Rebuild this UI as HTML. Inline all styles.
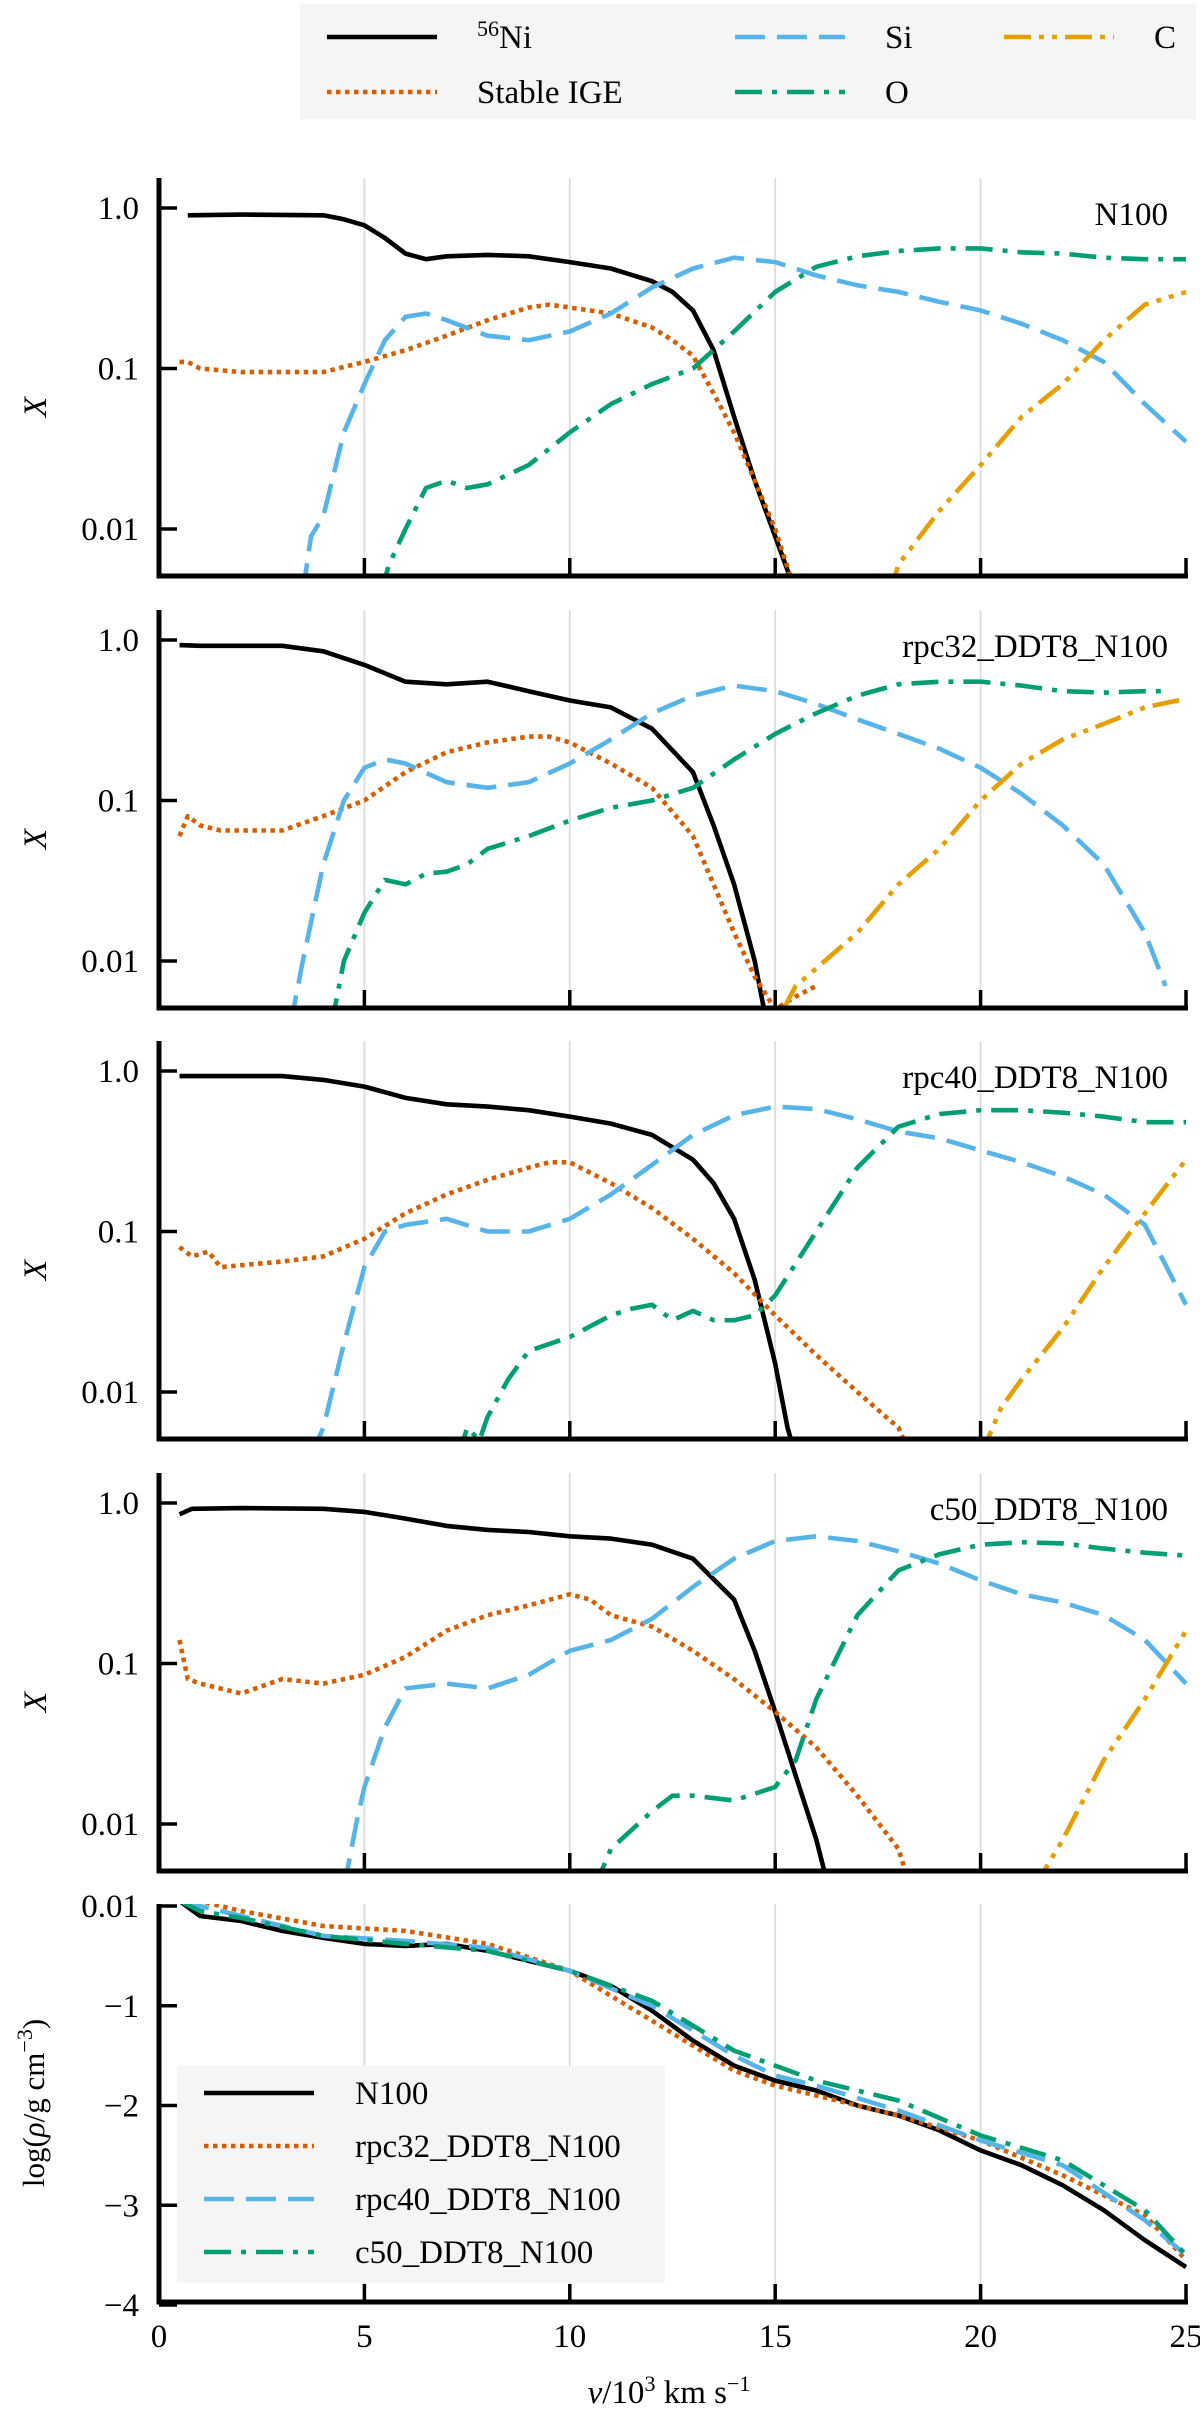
<!DOCTYPE html>
<html><head><meta charset="utf-8"><style>
html,body{margin:0;padding:0;background:#fff;}
svg{display:block;font-family:"Liberation Serif",serif;}
</style></head><body>
<svg id="chart" width="1200" height="2410" viewBox="0 0 1200 2410" xmlns="http://www.w3.org/2000/svg"></svg>
<script>
// ---- data ----
const xTicks = [0,5,10,15,20,25];
const yTicksLog = [1.0,0.1,0.01];
const yTickLogLabels = ["1.0","0.1","0.01"];
const rhoTicks = [0,-1,-2,-3,-4];
const rhoTickLabels = ["0.01","\u22121","\u22122","\u22123","\u22124"];
const panelNames = ["N100","rpc32_DDT8_N100","rpc40_DDT8_N100","c50_DDT8_N100"];

// N100
const p1_ni_v=[0.7,2,4,4.5,5,5.5,6,6.5,7,8,9,10,11,12,12.5,13,13.5,14,14.5,15,15.5];
const p1_ni_x=[0.9,0.91,0.9,0.85,0.78,0.65,0.52,0.48,0.5,0.51,0.5,0.46,0.42,0.35,0.3,0.23,0.13,0.05,0.02,0.009,0.004];
const p1_ige_v=[0.5,0.7,1,2,3,4,5,6,7,8,9,9.5,10,11,12,12.5,13,13.5,14,14.5,15,15.5];
const p1_ige_x=[0.11,0.11,0.1,0.095,0.095,0.095,0.11,0.13,0.16,0.2,0.24,0.25,0.24,0.22,0.18,0.15,0.12,0.07,0.04,0.02,0.01,0.004];
const p1_si_v=[3.5,3.7,4,4.5,5,5.5,6,6.5,7,8,9,10,11,12,13,14,15,16,17,18,19,20,21,22,23,24,25];
const p1_si_x=[0.004,0.009,0.012,0.04,0.08,0.15,0.21,0.22,0.2,0.16,0.15,0.17,0.22,0.32,0.42,0.49,0.46,0.38,0.33,0.3,0.26,0.23,0.19,0.15,0.11,0.06,0.035];
const p1_o_v=[5.4,5.6,6,6.5,7,7.5,8,9,10,11,12,13,14,15,16,17,18,19,20,21,22,23,24,25];
const p1_o_x=[0.004,0.006,0.01,0.018,0.02,0.018,0.019,0.025,0.04,0.06,0.08,0.1,0.17,0.3,0.43,0.5,0.54,0.56,0.56,0.53,0.52,0.49,0.48,0.48];
const p1_c_v=[17.8,18,19,20,21,22,23,24,25];
const p1_c_x=[0.004,0.006,0.013,0.025,0.05,0.08,0.15,0.25,0.3];
// rpc32
const p2_ni_v=[0.5,1,3,4,5,6,7,8,9,10,11,12,13,13.5,14,14.5,14.8];
const p2_ni_x=[0.93,0.92,0.92,0.85,0.7,0.55,0.53,0.55,0.48,0.42,0.38,0.28,0.15,0.07,0.03,0.01,0.004];
const p2_ige_v=[0.5,0.7,1,1.5,3,4,5,6,7,8,9,9.5,10,11,12,13,13.5,14,14.5,15,15.5,16];
const p2_ige_x=[0.06,0.08,0.07,0.065,0.065,0.08,0.1,0.15,0.2,0.23,0.25,0.25,0.23,0.17,0.12,0.06,0.03,0.015,0.008,0.005,0.006,0.007];
const p2_si_v=[3.2,3.5,4,4.5,5,5.5,6,7,8,9,10,11,12,13,14,15,16,17,18,19,20,21,22,23,24,24.5];
const p2_si_x=[0.004,0.01,0.04,0.1,0.16,0.18,0.17,0.13,0.12,0.13,0.17,0.24,0.35,0.45,0.52,0.48,0.4,0.32,0.26,0.21,0.16,0.11,0.07,0.04,0.015,0.007];
const p2_o_v=[4.2,4.5,5,5.5,6,6.5,7,7.5,8,9,10,11,12,13,14,15,16,17,18,19,20,21,22,23,24,24.5];
const p2_o_x=[0.004,0.01,0.02,0.032,0.03,0.035,0.036,0.04,0.05,0.06,0.075,0.09,0.1,0.12,0.18,0.26,0.35,0.45,0.53,0.55,0.55,0.52,0.48,0.47,0.48,0.48];
const p2_c_v=[15.2,15.5,16,17,18,19,20,21,22,23,24,25];
const p2_c_x=[0.005,0.007,0.009,0.015,0.03,0.05,0.1,0.17,0.24,0.3,0.38,0.43];
// rpc40
const p3_ni_v=[0.5,3,4,5,6,7,8,9,10,11,12,13,13.5,14,14.5,15,15.3,15.5];
const p3_ni_x=[0.93,0.93,0.88,0.8,0.68,0.62,0.6,0.57,0.52,0.47,0.4,0.28,0.2,0.12,0.05,0.015,0.006,0.004];
const p3_ige_v=[0.5,0.8,1.2,1.5,3,4,5,6,7,8,9,9.5,10,11,12,13,14,15,16,17,18,18.3];
const p3_ige_x=[0.08,0.07,0.075,0.06,0.065,0.07,0.09,0.13,0.17,0.21,0.25,0.27,0.27,0.2,0.14,0.09,0.055,0.03,0.017,0.01,0.006,0.004];
const p3_si_v=[3.7,4,4.5,5,5.5,6,7,8,9,10,11,12,13,14,15,16,17,18,19,20,21,22,23,24,25];
const p3_si_x=[0.004,0.006,0.02,0.06,0.1,0.11,0.12,0.1,0.1,0.12,0.17,0.26,0.4,0.53,0.6,0.58,0.5,0.42,0.38,0.32,0.27,0.22,0.17,0.11,0.035];
const p3_o_v=[7.3,7.5,7.8,8,8.5,9,10,11,11.5,12,12.5,13,13.5,14,14.5,15,16,17,18,19,20,21,22,23,24,25];
const p3_o_x=[0.004,0.006,0.005,0.007,0.012,0.018,0.022,0.03,0.033,0.035,0.028,0.032,0.028,0.028,0.03,0.04,0.1,0.25,0.45,0.54,0.57,0.57,0.55,0.52,0.48,0.48];
const p3_c_v=[20,20.5,21,22,23,24,25];
const p3_c_x=[0.004,0.008,0.012,0.025,0.06,0.13,0.28];
// c50
const p4_ni_v=[0.5,0.8,2,4,5,6,7,8,9,10,11,12,13,14,14.5,15,15.5,16,16.3];
const p4_ni_x=[0.85,0.92,0.93,0.92,0.88,0.8,0.72,0.68,0.66,0.62,0.6,0.55,0.45,0.25,0.12,0.05,0.02,0.008,0.004];
const p4_ige_v=[0.5,0.7,1,2,3,4,5,6,7,8,9,10,10.5,11,12,13,14,15,16,17,18,18.3];
const p4_ige_x=[0.14,0.08,0.075,0.065,0.08,0.075,0.085,0.11,0.16,0.2,0.23,0.27,0.25,0.2,0.17,0.12,0.08,0.05,0.03,0.015,0.007,0.004];
const p4_si_v=[4.5,4.8,5,5.5,6,7,8,9,10,11,12,13,14,15,16,17,18,19,20,21,22,23,24,25];
const p4_si_x=[0.004,0.01,0.017,0.04,0.07,0.075,0.07,0.085,0.12,0.14,0.19,0.3,0.45,0.58,0.62,0.58,0.5,0.42,0.33,0.27,0.24,0.2,0.14,0.075];
const p4_o_v=[10.6,11,12,12.5,13,14,15,15.5,16,17,18,19,20,21,22,23,24,25];
const p4_o_x=[0.004,0.007,0.012,0.015,0.015,0.014,0.017,0.025,0.06,0.2,0.38,0.48,0.55,0.57,0.56,0.52,0.49,0.47];
const p4_c_v=[21.3,22,23,24,25];
const p4_c_x=[0.004,0.008,0.025,0.06,0.16];
// density panel
const rho_n100_v=[0.5,1,2,3,4,5,6,7,8,9,10,11,12,13,14,15,16,17,18,19,20,21,22,23,24,25];
const rho_n100_y=[0.05,-0.1,-0.15,-0.25,-0.32,-0.38,-0.4,-0.38,-0.45,-0.55,-0.65,-0.8,-1.05,-1.35,-1.6,-1.75,-1.85,-2.0,-2.1,-2.25,-2.45,-2.6,-2.8,-3.05,-3.35,-3.62];
const rho_rpc32_v=[0.5,2,4,6,8,10,11,12,13,14,15,16,18,20,22,24,25];
const rho_rpc32_y=[0.1,-0.05,-0.2,-0.25,-0.38,-0.65,-0.9,-1.15,-1.4,-1.65,-1.8,-1.9,-2.1,-2.35,-2.7,-3.1,-3.55];
const rho_rpc40_v=[0.5,2,4,6,8,10,12,14,15,16,18,20,22,24,25];
const rho_rpc40_y=[0.05,-0.1,-0.3,-0.35,-0.42,-0.65,-1.0,-1.5,-1.7,-1.8,-2.05,-2.35,-2.6,-3.15,-3.5];
const rho_c50_v=[0.5,1,2,4,6,8,10,12,13,14,15,16,18,20,22,24,25];
const rho_c50_y=[0.05,-0.05,-0.12,-0.3,-0.38,-0.45,-0.65,-0.95,-1.2,-1.45,-1.6,-1.75,-1.95,-2.3,-2.55,-3.05,-3.5];

// ---- layout ----
const NS="http://www.w3.org/2000/svg";
const svg=document.getElementById('chart');
const X0=159, X1=1186, PH=398;
const LW=4.6;
const panelTops=[178,610,1041,1473,1904];
const styles={
 ni:{c:"#000",d:""}, ige:{c:"#d55e00",d:"4.5,4.5"}, si:{c:"#56b4e9",d:"30,12"},
 o:{c:"#009e73",d:"27,10,5,10"}, c:{c:"#e69f00",d:"27,8,5,8,5,8"}
};
function el(tag,attrs,parent){const e=document.createElementNS(NS,tag);for(const k in attrs)e.setAttribute(k,attrs[k]);(parent||svg).appendChild(e);return e;}
function xs(v){return X0+(v/25)*(X1-X0);}
const DEC=160.5;
function ysLog(top,x){return top+30-Math.log10(x)*DEC;}
function ysRho(top,y){return top+2+(0-y)*99.75;}
function path(vs,ys,ymap,top,st,name,clip){
  const d=vs.map((v,i)=>(i?'L':'M')+xs(v).toFixed(1)+','+ymap(top,ys[i]).toFixed(1)).join('');
  const p=el('path',{d:d,fill:'none',stroke:st.c,'stroke-width':LW,'stroke-linejoin':'round','clip-path':'url(#'+clip+')'});
  if(st.d)p.setAttribute('stroke-dasharray',st.d);
  
  
  return p;
}
const defs=el('defs',{});
panelTops.forEach((t,i)=>{const cp=el('clipPath',{id:'clip'+i},defs);el('rect',{x:X0,y:t,width:X1-X0+3,height:PH},cp);});

const series=[
 [[p1_ni_v,p1_ni_x],[p1_ige_v,p1_ige_x],[p1_si_v,p1_si_x],[p1_o_v,p1_o_x],[p1_c_v,p1_c_x]],
 [[p2_ni_v,p2_ni_x],[p2_ige_v,p2_ige_x],[p2_si_v,p2_si_x],[p2_o_v,p2_o_x],[p2_c_v,p2_c_x]],
 [[p3_ni_v,p3_ni_x],[p3_ige_v,p3_ige_x],[p3_si_v,p3_si_x],[p3_o_v,p3_o_x],[p3_c_v,p3_c_x]],
 [[p4_ni_v,p4_ni_x],[p4_ige_v,p4_ige_x],[p4_si_v,p4_si_x],[p4_o_v,p4_o_x],[p4_c_v,p4_c_x]]
];
const keys=['ni','ige','si','o','c'];

panelTops.forEach((t,pi)=>{
  const g=el('g',{});
  
  
  [5,10,15,20].forEach(v=>{const l=el('line',{x1:xs(v),x2:xs(v),y1:t,y2:t+PH,stroke:'#dcdcdc','stroke-width':1.8},g);
    });
  if(pi<4){
    series[pi].forEach((s,k)=>{g.appendChild(path(s[0],s[1],ysLog,t,styles[keys[k]],'series-'+keys[k],'clip'+pi));});
    yTicksLog.forEach((v,k)=>{const y=ysLog(t,v);
      el('line',{x1:X0,x2:X0+18,y1:y,y2:y,stroke:'#000','stroke-width':3.5},g);
      const tx=el('text',{x:X0-20,y:y+11,'text-anchor':'end','font-size':33},g);tx.textContent=yTickLogLabels[k];
      });
    const yl=el('text',{x:0,y:0,transform:'translate(46,'+(t+PH/2+30)+') rotate(-90)','text-anchor':'middle','font-size':33,'font-style':'italic'},g);
    yl.textContent='X';
    const pl=el('text',{x:1168,y:t+47,'text-anchor':'end','font-size':33},g);pl.textContent=panelNames[pi];
    
  } else {
    const st=[styles.ni,styles.ige,styles.si,styles.o];
    const rs=[[rho_n100_v,rho_n100_y],[rho_rpc32_v,rho_rpc32_y],[rho_rpc40_v,rho_rpc40_y],[rho_c50_v,rho_c50_y]];
    const nm=['density-n100','density-rpc32','density-rpc40','density-c50'];
    rs.forEach((s,k)=>g.appendChild(path(s[0],s[1],ysRho,t,st[k],nm[k],'clip4')));
    rhoTicks.forEach((v,k)=>{const y=ysRho(t,v);
      el('line',{x1:X0,x2:X0+18,y1:y,y2:y,stroke:'#000','stroke-width':3.5},g);
      const tx=el('text',{x:X0-20,y:y+11,'text-anchor':'end','font-size':33},g);tx.textContent=rhoTickLabels[k];
      });
    const yl=el('text',{x:0,y:0,transform:'translate(44,'+(t+PH/2)+') rotate(-90)','text-anchor':'middle','font-size':31},g);
    yl.innerHTML='log(<tspan font-style="italic">ρ</tspan>/g cm<tspan dy="-12" font-size="22">−3</tspan><tspan dy="12">)</tspan>';
    
    const lg=el('g',{},g);
    el('rect',{x:177,y:2066,width:488,height:217,fill:'#f5f5f5'},lg);
    const lab=['N100','rpc32_DDT8_N100','rpc40_DDT8_N100','c50_DDT8_N100'];
    lab.forEach((s,k)=>{const y=2093+k*53;
      const l=el('line',{x1:204,x2:314,y1:y,y2:y,stroke:st[k].c,'stroke-width':LW},lg);if(st[k].d)l.setAttribute('stroke-dasharray',st[k].d);
      const tx=el('text',{x:355,y:y+11,'font-size':33},lg);tx.textContent=s;
      });
    xTicks.forEach(v=>{const tx=el('text',{x:xs(v),y:t+PH+45,'text-anchor':'middle','font-size':33},g);tx.textContent=v;
      });
    const xl=el('text',{x:669,y:2403,'text-anchor':'middle','font-size':33},g);
    xl.innerHTML='<tspan font-style="italic">v</tspan>/10<tspan dy="-12" font-size="22">3</tspan><tspan dy="12"> km s</tspan><tspan dy="-12" font-size="22">−1</tspan>';
    
  }
  xTicks.slice(1).forEach(v=>el('line',{x1:xs(v),x2:xs(v),y1:t+PH,y2:t+PH-18,stroke:'#000','stroke-width':3.5},g));
  el('line',{x1:X0,x2:X0,y1:t,y2:t+PH+2.5,stroke:'#000','stroke-width':5},g);
  el('line',{x1:X0-2.5,x2:X1+2,y1:t+PH,y2:t+PH,stroke:'#000','stroke-width':5},g);
});

const tl=el('g',{});
el('rect',{x:300,y:4,width:896,height:115,fill:'#f5f5f5'},tl);
const legItems=[['ni',327,37,'<tspan dy="-12" font-size="22">56</tspan><tspan dy="12">Ni</tspan>'],['ige',327,92,'Stable IGE'],
 ['si',735,37,'Si'],['o',735,92,'O'],['c',1004,37,'C']];
legItems.forEach(it=>{const s=styles[it[0]];
  const l=el('line',{x1:it[1],x2:it[1]+110,y1:it[2],y2:it[2],stroke:s.c,'stroke-width':LW},tl);if(s.d)l.setAttribute('stroke-dasharray',s.d);
  const tx=el('text',{x:it[1]+150,y:it[2]+11,'font-size':33},tl);tx.innerHTML=it[3];
  });
</script>
</body></html>
